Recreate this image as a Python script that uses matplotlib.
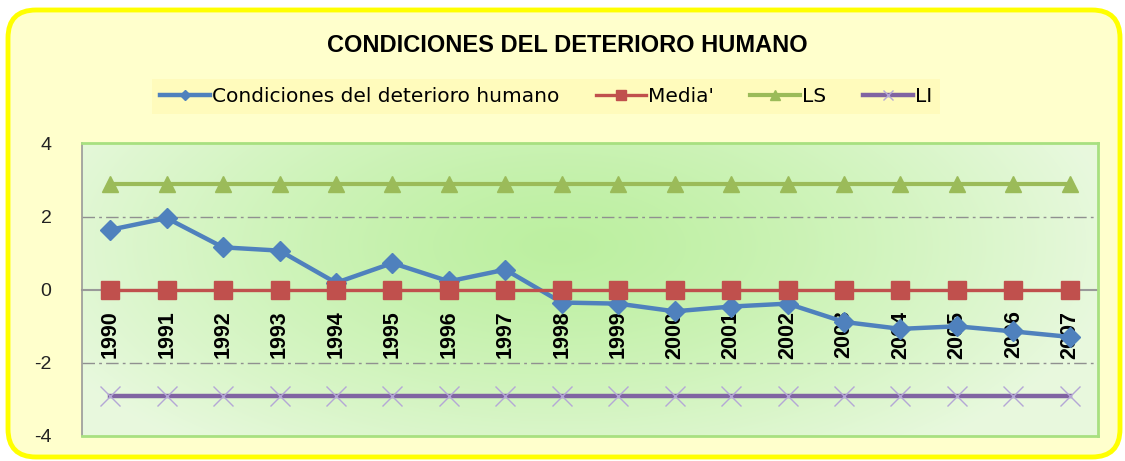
import numpy as np
import matplotlib
matplotlib.use("Agg")
import matplotlib.pyplot as plt
from matplotlib.patches import FancyBboxPatch
from matplotlib.transforms import IdentityTransform

plt.rcParams['font.family'] = ['Liberation Sans', 'DejaVu Sans']

# Data
years = ['1990', '1991', '1992', '1993', '1994', '1995', '1996', '1997', '1998',
         '1999', '2000', '2001', '2002', '2003', '2004', '2005', '2006', '2007']
deterioro = [1.64, 1.96, 1.16, 1.07, 0.19, 0.73, 0.23, 0.55, -0.35,
             -0.38, -0.59, -0.46, -0.38, -0.88, -1.07, -1.00, -1.14, -1.29]
media = [0.0] * len(years)
ls_vals = [2.9] * len(years)
li_vals = [-2.9] * len(years)

W, H = 1125, 461
fig = plt.figure(figsize=(W / 100, H / 100), dpi=100)
fig.patch.set_facecolor('white')

# rounded yellow frame
frame = FancyBboxPatch((8, 4), W - 13, H - 14,
                       boxstyle='round,pad=0,rounding_size=28',
                       transform=IdentityTransform(),
                       fc='#FFFFCC', ec='#FFFF00', lw=3.5, zorder=-10)
fig.patches.append(frame)

ax = fig.add_axes([82 / W, 1 - 436 / H, (1098 - 82) / W, (436 - 143.5) / H])
ax.set_facecolor('none')

x = np.arange(len(years))
ax.set_xlim(-0.5, len(years) - 0.5)
ax.set_ylim(-4, 4)

# radial green gradient for the plot area
gx, gy = np.meshgrid(np.linspace(0, 1, 400), np.linspace(0, 1, 200))
r = np.sqrt(((gx - 0.47) / 0.55) ** 2 + ((gy - 0.35) / 0.9) ** 2)
t = np.clip(r, 0, 1) ** 1.3
c0 = np.array([0.74, 0.94, 0.63])
c1 = np.array([0.91, 0.975, 0.87])
img = c0[None, None, :] * (1 - t[..., None]) + c1[None, None, :] * t[..., None]
ax.imshow(img, extent=(-0.5, len(years) - 0.5, -4, 4), origin='upper',
          aspect='auto', zorder=0, interpolation='bilinear')

# gridlines
ax.set_yticks([-4, -2, 0, 2, 4])
ax.set_yticklabels(['-4', '-2', '0', '2', '4'], fontsize=14, color='#222222')
ax.tick_params(axis='y', length=0, pad=22)
for yv in [-2, 2]:
    ax.axhline(yv, color='#909090', lw=1, ls=(0, (9, 3, 2, 3)), zorder=1)
ax.set_xticks([])

for side in ['top', 'right', 'bottom']:
    ax.spines[side].set_color('#A8E080')
    ax.spines[side].set_linewidth(2)
ax.spines['left'].set_color('#999999')
ax.spines['left'].set_linewidth(1.2)

# category axis crossing at zero
sec = ax.secondary_xaxis(0.5)
sec.set_alignment('bottom')
sec.set_xticks(x)
sec.set_xticklabels(years, rotation=90, fontsize=15.5, fontweight='bold')
sec.tick_params(length=0, pad=15)
sec.spines['bottom'].set_color('#999999')
sec.spines['bottom'].set_linewidth(1.5)

ax.plot(x, deterioro, color='#4F81BD', lw=3.2, marker='D', ms=10,
        label='Condiciones del deterioro humano', zorder=3)
ax.plot(x, media, color='#C0504D', lw=2.4, marker='s', ms=12.5,
        label="Media'", zorder=4)
ax.plot(x, ls_vals, color='#9BBB59', lw=3, marker='^', ms=12,
        label='LS', zorder=4)
ax.plot(x, li_vals, color='#8064A2', lw=3.2, marker='x', ms=14, mew=1,
        mec='#B4A7D6', label='LI', zorder=4)

leg = fig.legend(loc='center', bbox_to_anchor=(546 / W, 1 - 96.5 / H), ncol=4,
                 prop={'family': 'DejaVu Sans', 'size': 14.5},
                 frameon=True, fancybox=False, markerscale=0.55,
                 handlelength=2.5, columnspacing=1.8, handletextpad=0.1,
                 borderpad=0.4)
leg.get_frame().set_facecolor('#FFFAB8')
leg.get_frame().set_edgecolor('none')

fig.text(567 / W, 1 - 45 / H, 'CONDICIONES DEL DETERIORO HUMANO',
         ha='center', va='center', fontsize=17, fontweight='bold')

fig.savefig('out.png', dpi=100, facecolor=fig.get_facecolor())
